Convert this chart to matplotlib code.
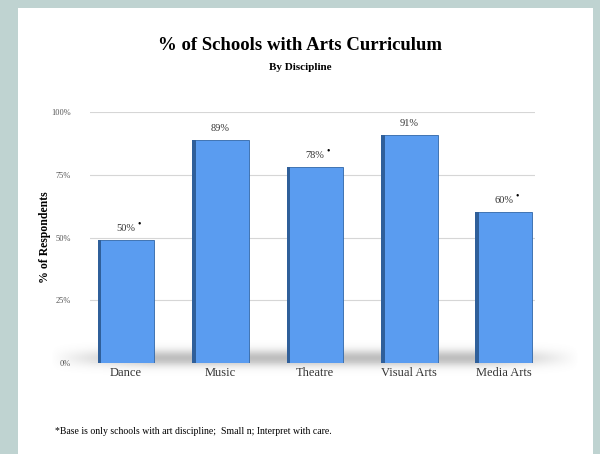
import numpy as np
import matplotlib.pyplot as plt
from matplotlib.patches import Rectangle

plt.rcParams['font.family'] = ['Liberation Serif', 'DejaVu Serif']

disciplines = ['Dance', 'Music', 'Theatre', 'Visual Arts', 'Media Arts']
pct = [49, 89, 78, 91, 60]
labels = ['50%', '89%', '78%', '91%', '60%']
small_base = [True, False, True, False, True]
yticks = [0, 25, 50, 75, 100]
ytick_labels = ['0%', '25%', '50%', '75%', '100%']

fig = plt.figure(figsize=(6, 4.54), dpi=100)
fig.patch.set_facecolor('#bfd3d1')
# white panel
fig.patches.append(Rectangle((18/600, 0), 575/600, 446/454, transform=fig.transFigure,
                             facecolor='white', edgecolor='none', zorder=-1))

ax = fig.add_axes([0.15, 0.2004, 0.7417, 0.5529])
ax.set_zorder(2)
ax.set_facecolor('none')
x = np.arange(len(disciplines))

# soft floor shadow under the bars
grad = np.exp(-(np.linspace(-2, 2, 40) * 1.1) ** 2)[:, None] * np.ones((1, 200))
fade = np.minimum(1, np.sin(np.linspace(0, np.pi, 200)) * 1.8)
grad = grad * fade[None, :]
shadow = np.zeros((40, 200, 4))
shadow[..., :3] = 0.5
shadow[..., 3] = grad * 0.5
ax.imshow(shadow, extent=[-0.8, 4.8, -5, 9], aspect='auto', zorder=1,
          interpolation='bilinear', clip_on=False)

ax.bar(x, pct, width=0.6, color='#5a9cf0', edgecolor='#2f66a8', linewidth=0.6, zorder=3)
# darker left face
ax.bar(x - 0.28, pct, width=0.04, color='#2f5f9a', linewidth=0, zorder=4)

for xi, v, lab, star in zip(x, pct, labels, small_base):
    ax.annotate(lab, (xi, v), xytext=(0, 5), textcoords='offset points',
                ha='center', va='bottom', fontsize=7.5, color='#333333')
    if star:
        ax.annotate('•', (xi, v), xytext=(9.5, 8.5), textcoords='offset points',
                    ha='center', va='bottom', fontsize=7, color='black')

ax.set_xlim(-0.38, 4.33)
ax.set_ylim(0, 100)
ax.set_yticks(yticks)
ax.set_yticklabels(ytick_labels, fontsize=6, color='#555555')
ax.set_xticks(x)
ax.set_xticklabels(disciplines, fontsize=9, color='#333333')
ax.tick_params(length=0)
ax.tick_params(axis='y', pad=14)
ax.tick_params(axis='x', pad=3)
ax.grid(axis='y', color='#d6d6d6', linewidth=0.8, zorder=0)
ax.set_axisbelow(True)
for s in ax.spines.values():
    s.set_visible(False)
ax.set_ylabel('% of Respondents', fontsize=8.5, fontweight='bold', labelpad=0)

fig.text(0.5, 1 - 45/454, '% of Schools with Arts Curriculum', ha='center', va='center',
         fontsize=13.5, fontweight='bold')
fig.text(0.5, 1 - 67/454, 'By Discipline', ha='center', va='center',
         fontsize=8, fontweight='bold')
fig.text(55/600, 1 - 432/454, '*Base is only schools with art discipline;  Small n; Interpret with care.',
         ha='left', va='center', fontsize=7)

fig.savefig('out.png', dpi=100)
